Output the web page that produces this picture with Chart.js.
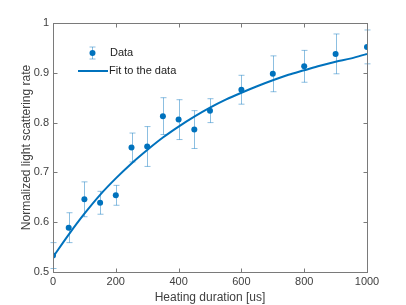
<!DOCTYPE html>
<html>
<head>
<meta charset="utf-8">
<script src="https://cdn.jsdelivr.net/npm/chart.js@4/dist/chart.umd.min.js"></script>
<style>
    html, body { margin: 0; padding: 0; background: #fff; }
    #wrap { width: 406px; height: 305px; }
</style>
</head>
<body>
<div id="wrap"><canvas id="chart_heating" width="406" height="305"></canvas></div>
<script>
// measured points
var data_x = [0, 50, 100, 150, 200, 250, 300, 350, 400, 450, 500, 600, 700, 800, 900, 1000];
var data_y = [0.533, 0.589, 0.646, 0.639, 0.654, 0.750, 0.752, 0.813, 0.806, 0.786, 0.824, 0.866, 0.898, 0.913, 0.938, 0.952];
var data_err = [0.026, 0.030, 0.035, 0.023, 0.020, 0.029, 0.040, 0.037, 0.040, 0.038, 0.024, 0.029, 0.036, 0.032, 0.040, 0.034];

// fit curve
var fit_x = [0, 50, 100, 150, 200, 250, 300, 350, 400, 450, 500, 550, 600, 650, 700, 750, 800, 850, 900, 950, 1000];
var fit_y = [0.530, 0.575, 0.617, 0.655, 0.688, 0.718, 0.745, 0.770, 0.792, 0.812, 0.830, 0.846, 0.860, 0.873, 0.885, 0.896, 0.905, 0.914, 0.922, 0.929, 0.938];

var x_ticks = [0, 200, 400, 600, 800, 1000];
var y_ticks = [0.5, 0.6, 0.7, 0.8, 0.9, 1];

var color_main = '#0072BD';
var color_err = 'rgba(0, 114, 189, 0.45)';
var color_text = '#404040';
var color_axis = '#7a7a7a';
var font_family = '"Liberation Sans", Arial, sans-serif';

function pts(xs, ys) {
    var out = [];
    for (var i = 0; i < xs.length; i++) {
        out.push({x: xs[i], y: ys[i]});
    }
    return out;
}

function draw_errbar(ctx, x, y_top, y_bot, cap) {
    ctx.beginPath();
    ctx.moveTo(x, y_top);
    ctx.lineTo(x, y_bot);
    ctx.moveTo(x - cap, y_top);
    ctx.lineTo(x + cap, y_top);
    ctx.moveTo(x - cap, y_bot);
    ctx.lineTo(x + cap, y_bot);
    ctx.stroke();
}

var errorbar_plugin = {
    id: 'errorbars',
    beforeDatasetsDraw: function (chart) {
        var ctx = chart.ctx;
        var sx = chart.scales.x, sy = chart.scales.y;
        ctx.save();
        ctx.strokeStyle = color_err;
        ctx.lineWidth = 1;
        for (var i = 0; i < data_x.length; i++) {
            var px = Math.round(sx.getPixelForValue(data_x[i])) + 0.5;
            draw_errbar(ctx, px, sy.getPixelForValue(data_y[i] + data_err[i]), sy.getPixelForValue(data_y[i] - data_err[i]), 3);
        }
        ctx.restore();
    }
};

var frame_plugin = {
    id: 'frame',
    afterDraw: function (chart) {
        var ctx = chart.ctx;
        var a = chart.chartArea;
        var sx = chart.scales.x, sy = chart.scales.y;
        var L = Math.round(a.left) + 0.5, R = Math.round(a.right) + 0.5;
        var T = Math.round(a.top) + 0.5, B = Math.round(a.bottom) + 0.5;
        var tl = 4;
        ctx.save();
        ctx.strokeStyle = color_axis;
        ctx.lineWidth = 1;
        ctx.strokeRect(L, T, R - L, B - T);
        ctx.beginPath();
        x_ticks.forEach(function (v) {
            var px = Math.round(sx.getPixelForValue(v)) + 0.5;
            ctx.moveTo(px, B); ctx.lineTo(px, B - tl);
            ctx.moveTo(px, T); ctx.lineTo(px, T + tl);
        });
        y_ticks.forEach(function (v) {
            var py = Math.round(sy.getPixelForValue(v)) + 0.5;
            ctx.moveTo(L, py); ctx.lineTo(L + tl, py);
            ctx.moveTo(R, py); ctx.lineTo(R - tl, py);
        });
        ctx.stroke();

        // legend, no border like the reference
        var lx = 92, ly1 = 53, ly2 = 71;
        ctx.strokeStyle = color_err;
        draw_errbar(ctx, lx + 0.5, ly1 - 6, ly1 + 6, 3);
        ctx.fillStyle = color_main;
        ctx.beginPath();
        ctx.arc(lx + 0.5, ly1, 3, 0, Math.PI * 2);
        ctx.fill();
        ctx.strokeStyle = color_main;
        ctx.lineWidth = 2;
        ctx.beginPath();
        ctx.moveTo(78, ly2); ctx.lineTo(108, ly2);
        ctx.stroke();
        ctx.fillStyle = '#222';
        ctx.font = '11px ' + font_family;
        ctx.textBaseline = 'middle';
        ctx.textAlign = 'left';
        ctx.fillText('Data', 110, ly1);
        ctx.fillText('Fit to the data', 109, ly2);
        ctx.restore();
    }
};

var chart_heating_settings = {
    type: 'scatter',
    data: {
        datasets: [{
            label: 'Data',
            data: pts(data_x, data_y),
            showLine: false,
            pointRadius: 3,
            pointBackgroundColor: color_main,
            pointBorderWidth: 0,
            order: 1
        }, {
            label: 'Fit to the data',
            data: pts(fit_x, fit_y),
            showLine: true,
            cubicInterpolationMode: 'monotone',
            borderColor: color_main,
            borderWidth: 2,
            pointRadius: 0,
            fill: false,
            order: 0
        }]
    },
    options: {
        responsive: false,
        animation: false,
        layout: {
            padding: {left: 0, right: 39, top: 23, bottom: 0}
        },
        plugins: {
            legend: {display: false},
            tooltip: {enabled: false}
        },
        scales: {
            x: {
                type: 'linear',
                min: 0,
                max: 1000,
                afterBuildTicks: function (scale) {
                    scale.ticks = x_ticks.map(function (v) { return {value: v}; });
                },
                afterFit: function (scale) { scale.height = 33; },
                grid: {display: false, drawTicks: false},
                border: {display: false},
                ticks: {
                    color: color_text,
                    padding: 3,
                    font: {family: font_family, size: 11},
                    maxRotation: 0,
                    callback: function (v) { return String(v); }
                },
                title: {
                    display: true,
                    text: 'Heating duration [us]',
                    color: color_text,
                    font: {family: font_family, size: 12},
                    padding: {top: 0, bottom: 0}
                }
            },
            y: {
                type: 'linear',
                min: 0.5,
                max: 1,
                afterBuildTicks: function (scale) {
                    scale.ticks = y_ticks.map(function (v) { return {value: v}; });
                },
                afterFit: function (scale) { scale.width = 53; },
                grid: {display: false, drawTicks: false},
                border: {display: false},
                ticks: {
                    color: color_text,
                    padding: 4,
                    font: {family: font_family, size: 11},
                    callback: function (v) { return String(Math.round(v * 10) / 10); }
                },
                title: {
                    display: true,
                    text: 'Normalized light scattering rate',
                    color: color_text,
                    font: {family: font_family, size: 12},
                    padding: {top: 19, bottom: 0}
                }
            }
        }
    },
    plugins: [errorbar_plugin, frame_plugin]
};

var chart_heating = new Chart(document.getElementById('chart_heating'), chart_heating_settings);
</script>
</body>
</html>
